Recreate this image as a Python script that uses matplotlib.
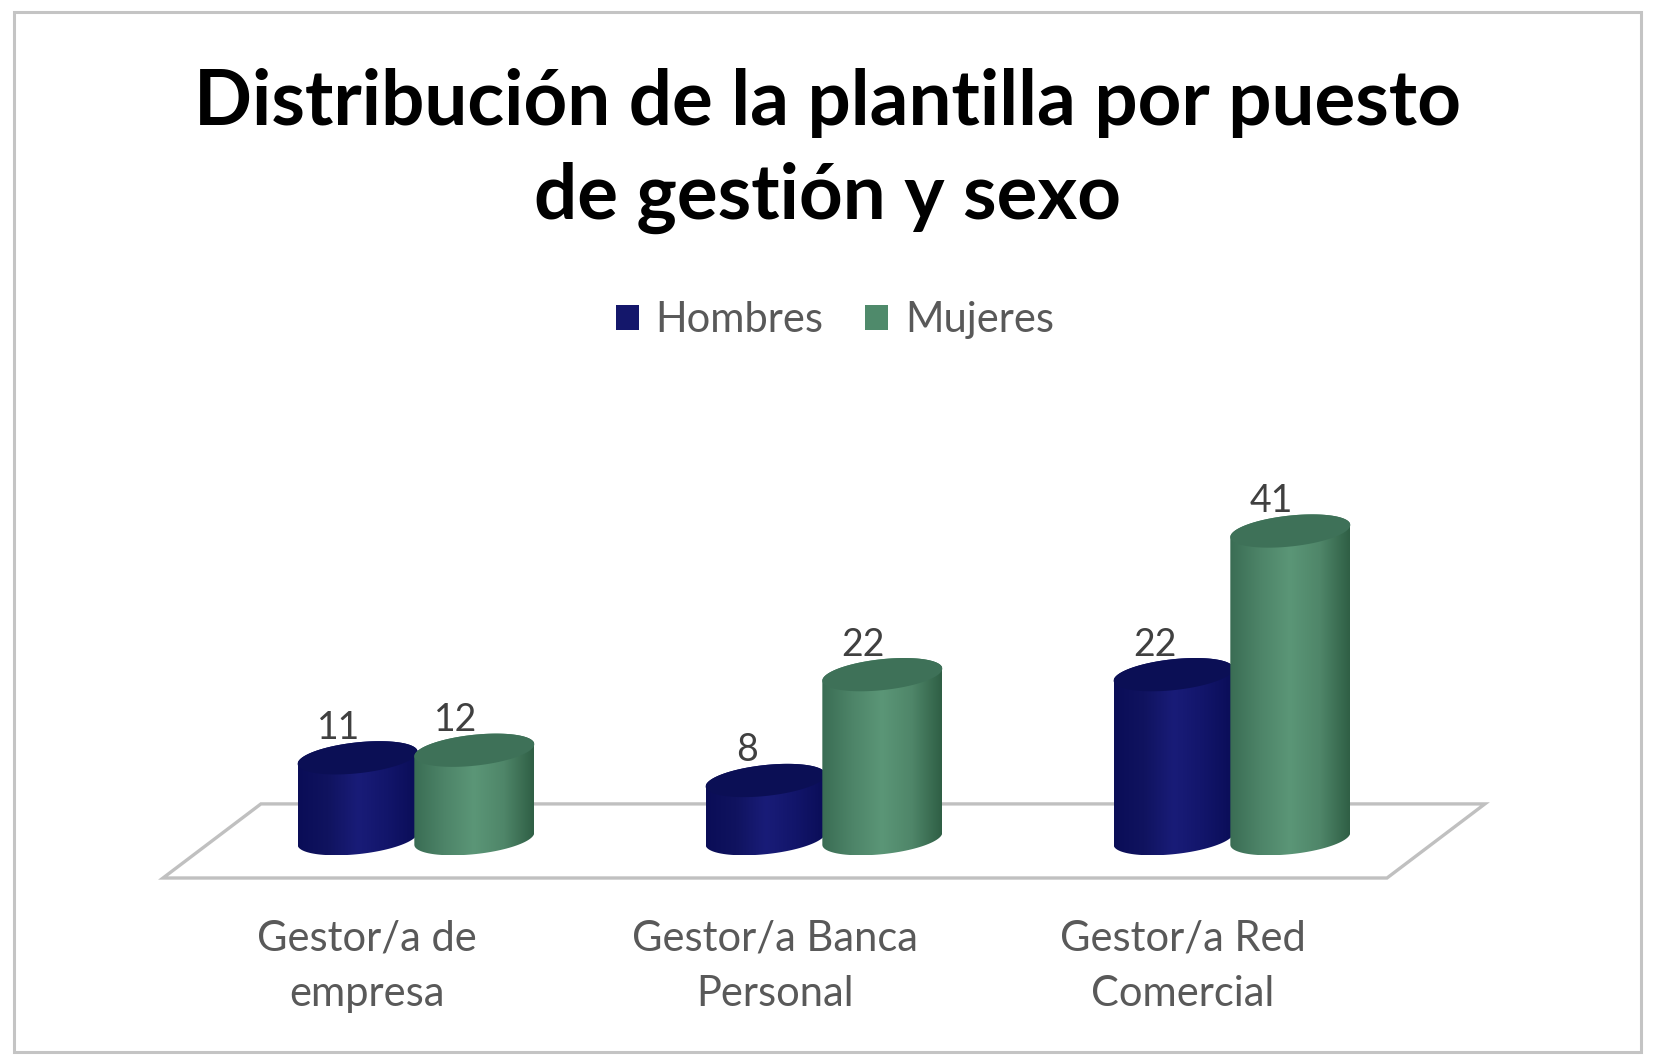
import numpy as np
import matplotlib
matplotlib.use('Agg')
import matplotlib.pyplot as plt
from matplotlib.colors import LinearSegmentedColormap
from matplotlib.patches import Patch, PathPatch, Polygon, Rectangle
from matplotlib.path import Path

# Datos
categorias = ['Gestor/a de\nempresa', 'Gestor/a Banca\nPersonal', 'Gestor/a Red\nComercial']
hombres = [11, 8, 22]
mujeres = [12, 22, 41]
titulo = 'Distribución de la plantilla por puesto\nde gestión y sexo'

W, H = 1654, 1064
plt.rcParams['font.family'] = ['Lato', 'DejaVu Sans']

fig = plt.figure(figsize=(W / 100, H / 100), dpi=100, facecolor='white')

# ejes: x=-0.5..2.5 es el borde delantero del suelo
left, right, bottom_px, top_px = 163, 1387, 878, 480
ax = fig.add_axes([left / W, 1 - bottom_px / H, (right - left) / W, (bottom_px - top_px) / H])
ylim = (-4.9, 47.75)
xlim = (-0.5, 2.5)

# marco exterior
fig.add_artist(Rectangle((14 / W, 1 - 1052 / H), 1627 / W, 1040 / H, transform=fig.transFigure,
                         fill=False, ec='#c4c4c4', lw=2.2))

# suelo en perspectiva
ax.add_patch(Polygon([(-0.5, ylim[0]), (2.5, ylim[0]), (2.74, -ylim[0]), (-0.26, -ylim[0])],
                     closed=True, fc='white', ec='#c0c0c0', lw=2.4, clip_on=False, zorder=1))

azul = LinearSegmentedColormap.from_list('azul', ['#0a0d57', '#10135f', '#191c78', '#12156a', '#0a0d57'])
verde = LinearSegmentedColormap.from_list('verde', ['#3a6d54', '#4d8468', '#5b9677', '#4f8669', '#2f5f45'])


def cilindro(cx, valor, cmap, color_tapa, z):
    a, b, k = 0.147, 2.05, 0.8
    base = 0.3
    t1 = np.linspace(np.pi, 0, 60)
    t2 = np.linspace(0, -np.pi, 60)
    xs = np.r_[cx + a * np.cos(t1), cx + a * np.cos(t2)]
    ys = np.r_[valor + b * np.sin(t1) + k * np.cos(t1), base + b * np.sin(t2) + k * np.cos(t2)]
    cuerpo = PathPatch(Path(np.c_[xs, ys]), fc='none', ec='none', transform=ax.transData)
    ax.add_patch(cuerpo)
    im = ax.imshow(np.linspace(0, 1, 256).reshape(1, -1), cmap=cmap, aspect='auto', zorder=z,
                   extent=(cx - a, cx + a, ys.min(), ys.max()))
    im.set_clip_path(cuerpo)
    t = np.linspace(0, 2 * np.pi, 120)
    ax.fill(cx + a * np.cos(t), valor + b * np.sin(t) + k * np.cos(t), color=color_tapa, lw=0, zorder=z + 0.1)


x = np.arange(len(categorias))
for i in x:
    cilindro(i + 0.12 - 0.143, hombres[i], azul, '#0b0f55', 2 + i * 2)
    cilindro(i + 0.12 + 0.143, mujeres[i], verde, '#3e7158', 3 + i * 2)

# etiquetas de datos
for i in x:
    for dx, v in ((-0.143, hombres[i]), (0.143, mujeres[i])):
        ax.annotate(str(v), (i + 0.12 + dx, v), xytext=(-19 / 1.389, 30 / 1.389), textcoords='offset points',
                    ha='center', va='center', fontsize=27, color='#404040', annotation_clip=False, zorder=20)

ax.set_xlim(xlim)
ax.set_ylim(ylim)
ax.set_xticks(x, categorias, fontsize=30, color='#595959', linespacing=1.55)
ax.tick_params(axis='x', length=0, pad=30)
ax.set_yticks([])
for s in ax.spines.values():
    s.set_visible(False)
ax.patch.set_visible(False)

fig.text(827 / W, 1 - 151 / H, titulo, ha='center', va='center', fontsize=55, fontweight='bold',
         color='black', linespacing=1.41)

ax.legend(handles=[Patch(fc='#14176b', label='Hombres'), Patch(fc='#4f8a6b', label='Mujeres')],
          loc='center', bbox_to_anchor=(835 / W, 1 - 320 / H), bbox_transform=fig.transFigure, ncol=2,
          frameon=False, fontsize=30, labelcolor='#595959', handlelength=0.55, handleheight=0.55,
          handletextpad=0.4, columnspacing=1.0)

fig.savefig('out.png', dpi=100)
